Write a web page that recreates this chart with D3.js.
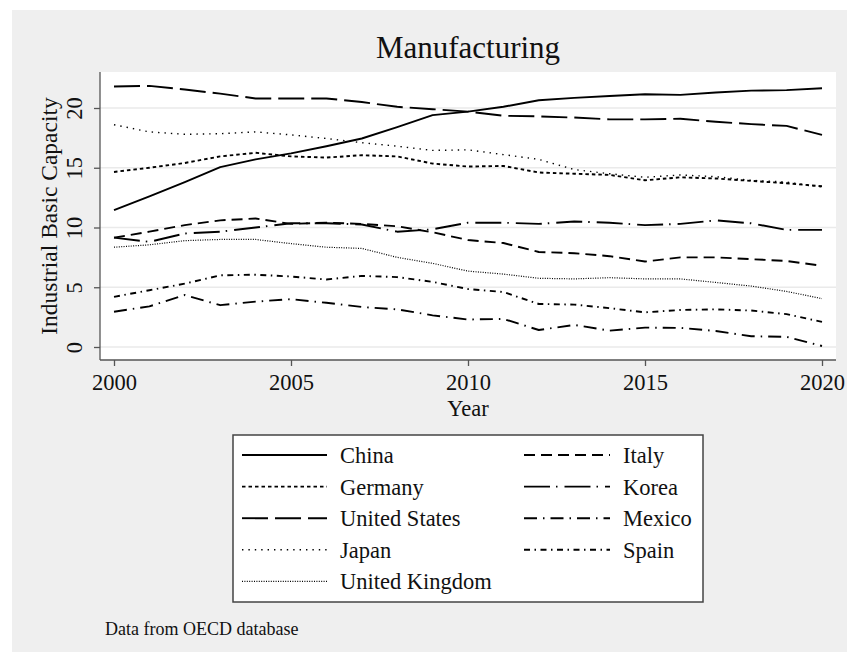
<!DOCTYPE html>
<html><head><meta charset="utf-8">
<script src="https://cdn.jsdelivr.net/npm/d3@7"></script>
<style>html,body{margin:0;padding:0;background:#fff;}svg{display:block;font-family:"Liberation Serif","Times New Roman",serif;}</style>
</head><body>
<svg id="c" width="847" height="652"></svg>
<script>
const years = d3.range(2000, 2021);
const china   = [11.45,12.6,13.8,15.05,15.7,16.2,16.8,17.45,18.4,19.4,19.7,20.1,20.65,20.85,21.0,21.15,21.1,21.3,21.45,21.5,21.65];
const germany = [14.65,15.0,15.4,15.95,16.25,15.95,15.85,16.05,15.95,15.35,15.1,15.15,14.6,14.5,14.4,13.95,14.2,14.1,13.9,13.7,13.45];
const us      = [21.8,21.85,21.55,21.2,20.8,20.8,20.8,20.5,20.1,19.9,19.7,19.35,19.3,19.2,19.05,19.05,19.1,18.85,18.65,18.5,17.75];
const japan   = [18.6,18.0,17.8,17.85,18.0,17.75,17.45,17.1,16.8,16.45,16.5,16.1,15.7,14.85,14.5,14.2,14.4,14.25,13.95,13.8,13.4];
const uk      = [8.35,8.55,8.9,9.0,9.0,8.65,8.35,8.25,7.5,7.0,6.35,6.1,5.75,5.7,5.8,5.7,5.7,5.4,5.1,4.65,4.05];
const italy   = [9.15,9.65,10.2,10.6,10.75,10.3,10.4,10.3,10.1,9.6,8.95,8.7,7.95,7.85,7.6,7.15,7.5,7.5,7.35,7.2,6.8];
const korea   = [9.15,8.8,9.5,9.65,10.0,10.35,10.35,10.25,9.65,9.85,10.4,10.4,10.3,10.5,10.4,10.2,10.3,10.6,10.35,9.8,9.8];
const mexico  = [2.95,3.4,4.35,3.5,3.8,4.0,3.7,3.35,3.15,2.65,2.3,2.35,1.42,1.85,1.37,1.62,1.6,1.34,0.9,0.85,0.08];
const spain   = [4.2,4.75,5.3,6.0,6.05,5.9,5.65,5.95,5.85,5.45,4.85,4.6,3.6,3.55,3.25,2.9,3.1,3.15,3.05,2.75,2.1];
const xTicks = [2000, 2005, 2010, 2015, 2020];
const yTicks = [0, 5, 10, 15, 20];
const seriesNames = ["China","Germany","United States","Japan","United Kingdom","Italy","Korea","Mexico","Spain"];
const seriesValues = [china, germany, us, japan, uk, italy, korea, mexico, spain];
const dashes = ["none","3.5,3","26,7","1.4,5","1,1.4","11,6","26,6,1.5,7","13,6,1.5,6","6,4.5,1.5,4.5"];
const widths = [1.9,1.9,1.9,1.4,1.2,1.9,1.9,1.9,1.9];

const svg = d3.select("#c");
svg.append("rect").attr("x",12).attr("y",10).attr("width",847-12).attr("height",652-10).attr("fill","#efefef");

const x = d3.scaleLinear().domain([2000,2020]).range([114,822]);
const y = d3.scaleLinear().domain([0,20]).range([347,108]);
const plotL=100, plotR=836, plotT=72, plotB=360;

svg.append("rect").attr("x",plotL).attr("y",plotT).attr("width",plotR-plotL).attr("height",plotB-plotT).attr("fill","#fff");

// grid
svg.append("g").selectAll("line").data(yTicks).join("line")
  .attr("x1",plotL).attr("x2",plotR).attr("y1",d=>y(d)).attr("y2",d=>y(d))
  .attr("stroke","#eaeaea").attr("stroke-width",1.5);

// lines
const line = d3.line().x((d,i)=>x(years[i])).y(d=>y(d));
seriesValues.forEach((vals,k)=>{
  svg.append("path").datum(vals).attr("d",line).attr("fill","none")
    .attr("stroke","#000").attr("stroke-width",widths[k])
    .attr("stroke-dasharray",dashes[k]).attr("stroke-linejoin","round");
});

// axes
const yAxis = svg.append("g").attr("transform",`translate(${plotL},0)`)
  .call(d3.axisLeft(y).tickValues(yTicks).tickSize(6).tickSizeOuter(0).tickFormat(d3.format("d")));
yAxis.select(".domain").attr("d",`M0,${plotT}V${plotB}`).attr("stroke","#555").attr("stroke-width",1.3);
yAxis.selectAll(".tick line").attr("stroke","#555").attr("stroke-width",1.3);
yAxis.selectAll(".tick text").attr("font-size",22.5).attr("fill","#111")
  .attr("font-family","Liberation Serif")
  .attr("transform","rotate(-90)").attr("x",0).attr("y",-18).attr("dy",0).attr("text-anchor","middle");

const xAxis = svg.append("g").attr("transform",`translate(0,${plotB})`)
  .call(d3.axisBottom(x).tickValues(xTicks).tickSize(6).tickSizeOuter(0).tickFormat(d3.format("d")));
xAxis.select(".domain").attr("d",`M${plotL},0H${plotR}`).attr("stroke","#555").attr("stroke-width",1.3);
xAxis.selectAll(".tick line").attr("stroke","#555").attr("stroke-width",1.3);
xAxis.selectAll(".tick text").attr("font-size",22.5).attr("fill","#111")
  .attr("font-family","Liberation Serif").attr("y",30).attr("dy",0);

svg.append("text").attr("x",468).attr("y",416).attr("text-anchor","middle").attr("font-size",22.5).attr("fill","#111").text("Year");
svg.append("text").attr("transform","translate(57,216) rotate(-90)").attr("text-anchor","middle").attr("font-size",23.5).attr("fill","#111").text("Industrial Basic Capacity");
svg.append("text").attr("x",468).attr("y",58).attr("text-anchor","middle").attr("font-size",31).attr("fill","#111").text("Manufacturing");

// legend
svg.append("rect").attr("x",233).attr("y",435).attr("width",470).attr("height",167)
  .attr("fill","#fff").attr("stroke","#444").attr("stroke-width",1.5);
const leg = svg.append("g");
seriesNames.forEach((nm,k)=>{
  const col = k<5?0:1, row = k<5?k:k-5;
  const ly = 455 + row*31.6;
  const x0 = col===0?242:524, x1 = col===0?327:610, tx = col===0?340:623;
  leg.append("line").attr("x1",x0).attr("x2",x1).attr("y1",ly).attr("y2",ly)
    .attr("stroke","#000").attr("stroke-width",widths[k]).attr("stroke-dasharray",dashes[k]);
  leg.append("text").attr("x",tx).attr("y",ly+8).attr("font-size",22.5).attr("fill","#111").text(nm);
});

svg.append("text").attr("x",105).attr("y",635).attr("font-size",18).attr("fill","#111").text("Data from OECD database");
</script>
</body></html>
